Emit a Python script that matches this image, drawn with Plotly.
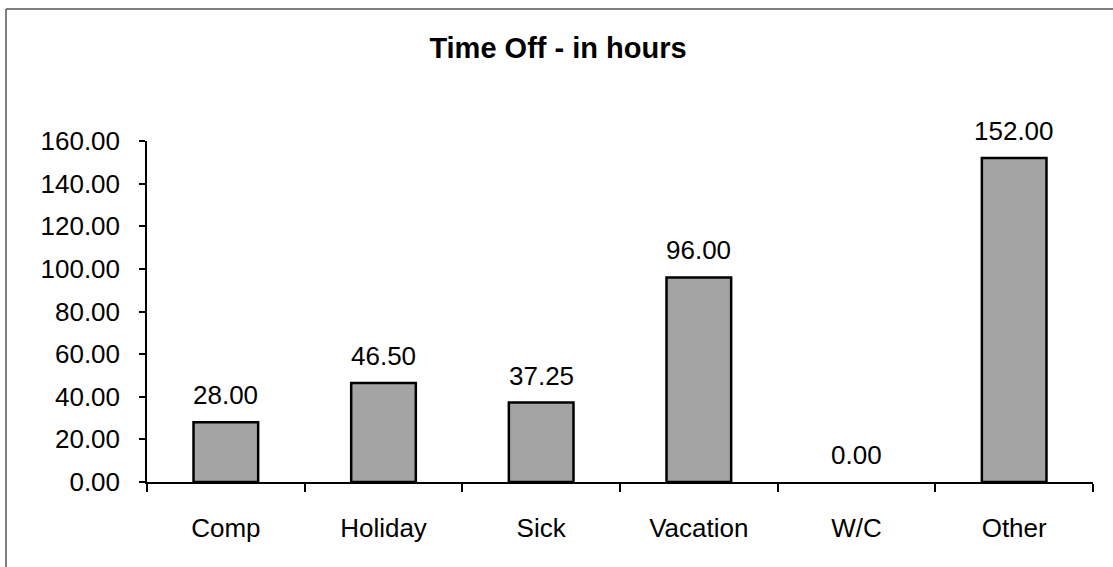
import plotly.graph_objects as go

categories = ["Comp", "Holiday", "Sick", "Vacation", "W/C", "Other"]
hours = [28.00, 46.50, 37.25, 96.00, 0.00, 152.00]
y_ticks = [0, 20, 40, 60, 80, 100, 120, 140, 160]

FONT = "Liberation Sans, Arial, sans-serif"

fig = go.Figure()
fig.add_trace(go.Bar(
    x=categories, y=hours,
    width=0.41,
    marker=dict(color="#a4a4a4",
                line=dict(color="#000000",
                          width=[2.5 if v > 0 else 0 for v in hours])),
    hoverinfo="skip",
))

for c, v in zip(categories, hours):
    fig.add_annotation(
        x=c, y=v, xref="x", yref="y",
        text=f"{v:.2f}", showarrow=False,
        yanchor="bottom", yshift=10,
        font=dict(family=FONT, size=26, color="#000000"),
    )

W, H = 1113, 567
L, R, T, B = 147, 20, 141, 85
pw, ph = W - L - R, H - T - B

def px_x(p):
    return (p - L) / pw

def px_y(p):
    return (H - B - p) / ph

# chart border (top and left visible)
fig.add_shape(type="line", xref="paper", yref="paper",
              x0=px_x(6), x1=px_x(1200), y0=px_y(9), y1=px_y(9),
              line=dict(color="#555555", width=1.5))
fig.add_shape(type="line", xref="paper", yref="paper",
              x0=px_x(6), x1=px_x(6), y0=px_y(9), y1=px_y(700),
              line=dict(color="#555555", width=1.5))

fig.update_layout(
    width=W, height=H,
    margin=dict(l=L, r=R, t=T, b=B),
    paper_bgcolor="white", plot_bgcolor="white",
    showlegend=False,
    title=dict(text="<b>Time Off - in hours</b>", x=558 / W, xanchor="center",
               y=1 - 48 / H, yanchor="middle", yref="container",
               font=dict(family=FONT, size=29, color="#000000")),
    font=dict(family=FONT, size=26, color="#000000"),
    bargap=0.59,
)
fig.update_xaxes(
    type="category",
    showline=True, linecolor="#000000", linewidth=1.5,
    ticks="outside", ticklen=8, tickcolor="#000000", tickwidth=1.5,
    tickson="boundaries",
    showgrid=False, zeroline=False,
    ticklabelstandoff=22,
    tickfont=dict(family=FONT, size=26, color="#000000"),
)
fig.update_yaxes(
    range=[0, 160], tickvals=y_ticks, tickformat=".2f",
    showline=True, linecolor="#000000", linewidth=1.5,
    ticks="outside", ticklen=6, tickcolor="#000000", tickwidth=1.5,
    showgrid=False, zeroline=False,
    ticklabelstandoff=14,
    tickfont=dict(family=FONT, size=26, color="#000000"),
)

fig.write_html("out.html", config={"displayModeBar": False},
               post_script="document.body.style.margin='0';")
